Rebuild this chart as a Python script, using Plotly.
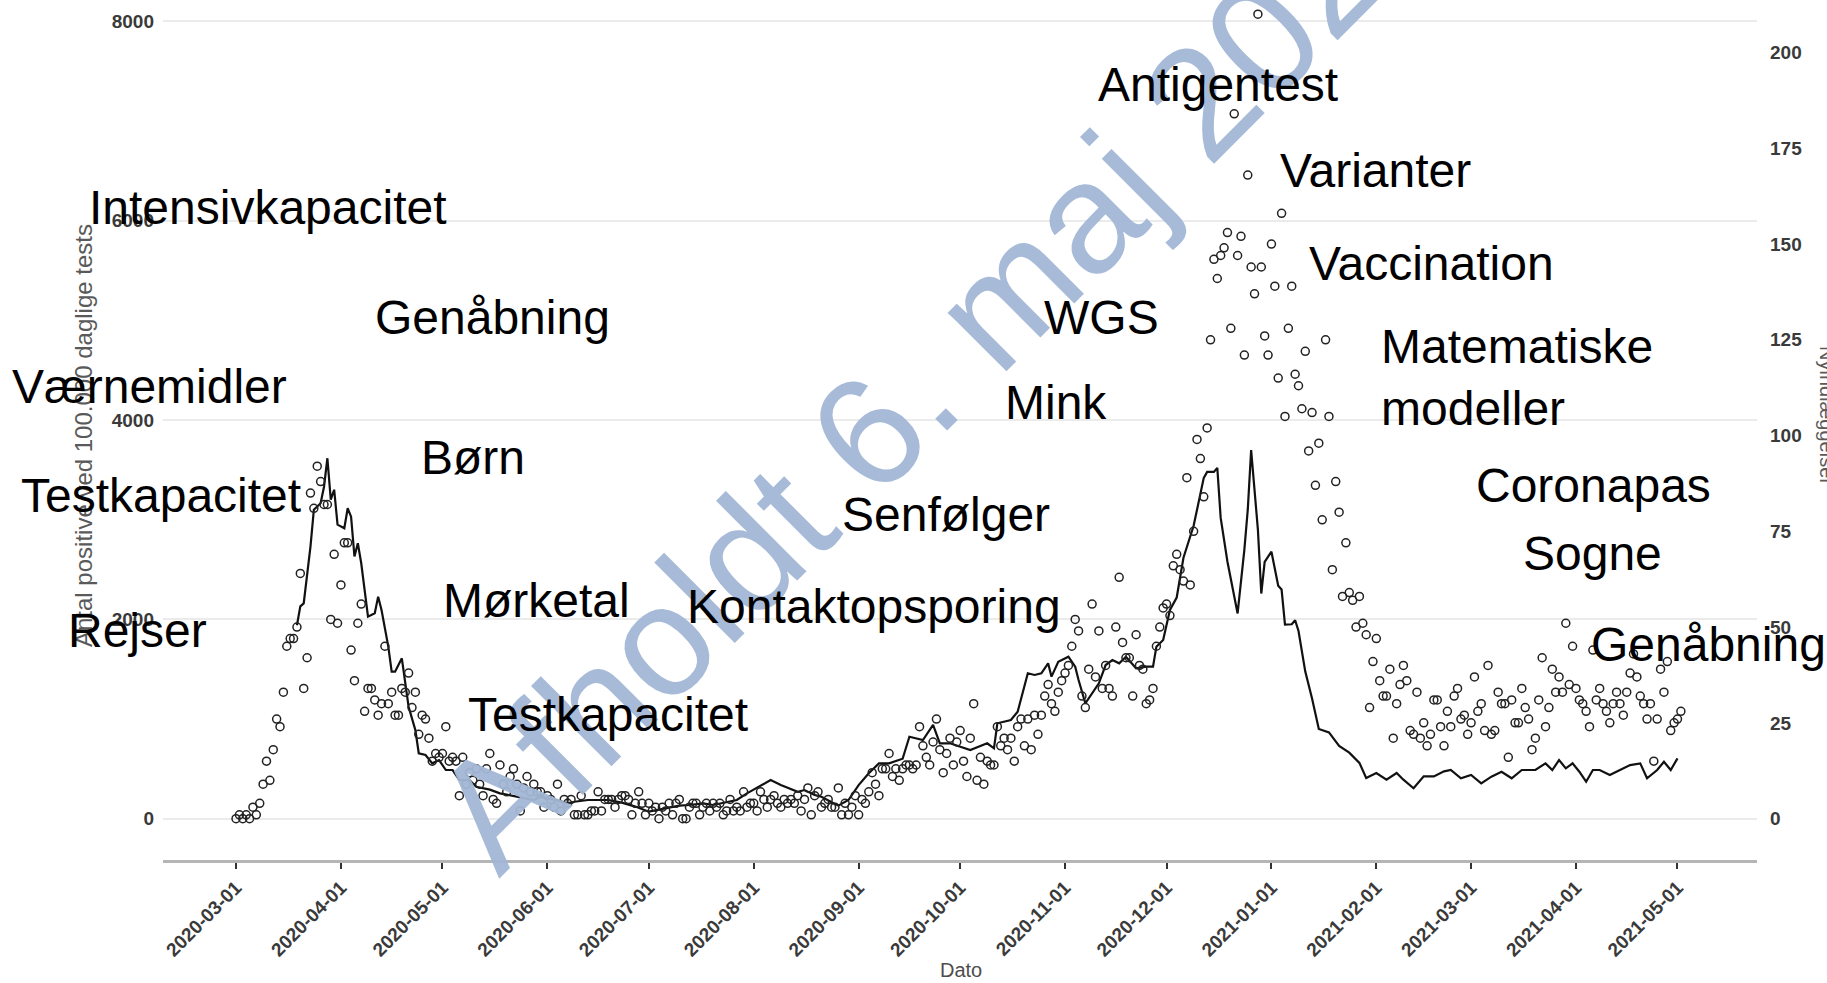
import pandas as pd
import plotly.graph_objects as go

# ---------------- data ----------------
start_date = "2020-03-01"

# daily new hospital admissions (right axis), one value per day from start_date
admissions = [
    0, 1, 0, 1, 0, 3, 1, 4, 9, 15,
    10, 18, 26, 24, 33, 45, 47, 47, 50, 64,
    34, 42, 85, 81, 92, 88, 82, 82, 52, 69,
    51, 61, 72, 72, 44, 36, 51, 56, 28, 34,
    34, 31, 27, 30, 45, 30, 33, 27, 27, 34,
    33, 38, 29, 33, 22, 27, 26, 21, 15, 17,
    16, 17, 24, 15, 16, 15, 6, 16, 9, 12,
    10, 13, 9, 6, 13, 17, 5, 4, 14, 9,
    7, 11, 13, 9, 2, 8, 11, 7, 9, 7,
    7, 3, 6, 5, 3, 9, 2, 5, 4, 5,
    1, 1, 6, 1, 1, 2, 2, 7, 2, 5,
    5, 5, 3, 5, 6, 6, 5, 1, 4, 7,
    4, 1, 4, 2, 3, 0, 3, 2, 4, 1,
    4, 5, 0, 0, 3, 4, 4, 1, 3, 4,
    2, 4, 3, 4, 1, 2, 5, 2, 3, 2,
    7, 3, 4, 4, 2, 7, 5, 3, 5, 6,
    4, 3, 5, 4, 5, 4, 6, 2, 5, 8,
    1, 6, 7, 3, 4, 5, 3, 3, 8, 1,
    4, 1, 3, 6, 1, 5, 4, 7, 12, 9,
    6, 13, 13, 17, 11, 13, 10, 13, 14, 14,
    13, 14, 24, 19, 16, 14, 20, 26, 18, 12,
    17, 21, 14, 20, 23, 15, 11, 21, 30, 10,
    16, 9, 15, 14, 14, 24, 19, 21, 18, 21,
    15, 24, 26, 19, 26, 18, 27, 22, 27, 32,
    35, 30, 28, 33, 36, 38, 40, 45, 52, 49,
    32, 29, 39, 56, 37, 49, 34, 40, 34, 32,
    50, 63, 46, 42, 42, 32, 48, 40, 39, 30,
    31, 34, 45, 50, 55, 56, 53, 66, 69, 65,
    62, 89, 61, 75, 99, 94, 84, 102, 125, 146,
    141, 147, 149, 153, 128, 184, 147, 152, 121, 168,
    144, 137, 210, 144, 126, 121, 150, 139, 115, 158,
    105, 128, 139, 116, 113, 107, 122, 96, 106, 87,
    98, 78, 125, 105, 65, 88, 80, 58, 72, 59,
    57, 50, 58, 51, 48, 29, 41, 47, 36, 32,
    32, 39, 21, 30, 35, 40, 36, 23, 22, 33,
    21, 25, 19, 22, 31, 31, 24, 19, 28, 24,
    32, 34, 26, 27, 22, 25, 37, 28, 30, 23,
    40, 22, 23, 33, 30, 30, 16, 31, 25, 25,
    34, 29, 26, 18, 21, 31, 42, 24, 29, 39,
    33, 37, 33, 51, 35, 45, 34, 31, 30, 28,
    24, 44, 31, 34, 30, 28, 25, 30, 33, 30,
    27, 33, 38, 43, 37, 32, 30, 26, 30, 15,
    26, 39, 33, 41, 23, 25, 26, 28,
]

# positives per 100.000 daily tests (left axis): day offset from start_date and value
positive_day = [
    18, 19, 20, 22, 23, 25, 26, 27, 28, 29, 30, 32, 33, 34, 35, 36, 37, 39, 41, 42,
    43, 45, 46, 47, 49, 50, 51, 53, 54, 56, 58, 60, 62, 64, 66, 69, 71, 75, 78, 80,
    83, 88, 90, 94, 98, 100, 104, 110, 114, 118, 122, 125, 127, 131, 134, 138, 141, 146, 148, 151,
    155, 158, 161, 166, 168, 171, 173, 176, 178, 181, 184, 187, 188, 190, 193, 196, 197, 199, 203, 206,
    208, 211, 217, 222, 224, 225, 229, 231, 234, 236, 238, 240, 241, 243, 246, 248, 249, 251, 253, 255,
    257, 259, 261, 263, 266, 269, 271, 272, 274, 276, 278, 280, 283, 286, 287, 289, 290, 291, 293, 295,
    296, 298, 299, 300, 302, 303, 304, 306, 308, 309, 310, 312, 313, 314, 316, 318, 320, 323, 326, 329,
    332, 334, 337, 340, 343, 345, 348, 351, 354, 357, 359, 362, 365, 368, 371, 374, 377, 380, 384, 387,
    389, 391, 393, 395, 397, 399, 401, 403, 406, 409, 412, 415, 417, 420, 422, 424, 426,
]
positive_val = [
    1940, 2130, 2160, 2730, 3100, 3165, 3330, 3616, 3200, 3300, 2950, 2914, 3114, 3030, 2630, 2763, 2562, 2026, 2060, 2227,
    2093, 1725, 1474, 1474, 1608, 1357, 1122, 888, 655, 638, 554, 587, 487, 487, 387, 386, 319, 290, 253, 240,
    220, 186, 219, 190, 153, 169, 186, 186, 160, 120, 69, 90, 102, 130, 136, 153, 136, 169, 186, 253,
    330, 386, 336, 269, 286, 236, 219, 169, 130, 186, 336, 454, 487, 554, 554, 587, 600, 821, 788, 939,
    755, 755, 688, 755, 705, 956, 989, 1072, 1458, 1441, 1458, 1558, 1424, 1574, 1624, 1524, 1391, 1157, 1257, 1357,
    1541, 1591, 1558, 1624, 1508, 1524, 1524, 1725, 1792, 2093, 2218, 2617, 2938, 3419, 3479, 3479, 3519, 3017, 2577, 2218,
    2058, 2698, 3097, 3698, 2898, 2258, 2577, 2678, 2337, 2298, 1946, 1950, 1990, 1882, 1475, 1204, 899, 864, 729, 661,
    559, 407, 457, 390, 457, 390, 304, 423, 423, 474, 487, 404, 437, 353, 420, 470, 404, 487, 487, 554,
    487, 587, 504, 554, 470, 370, 487, 487, 437, 487, 537, 554, 404, 487, 570, 487, 604,
]

left_ticks = [0, 2000, 4000, 6000, 8000]
right_ticks = [0, 25, 50, 75, 100, 125, 150, 175, 200]

labels = [
    "Intensivkapacitet", "Genåbning", "Værnemidler", "Børn", "Testkapacitet", "Rejser",
    "Mørketal", "Testkapacitet", "Kontaktopsporing", "Senfølger", "Mink", "WGS",
    "Antigentest", "Varianter", "Vaccination", "Matematiske<br>modeller", "Coronapas",
    "Sogne", "Genåbning",
]
watermark = "Afholdt 6. maj 2021"

# ---------------- layout geometry (pixels) ----------------
W, H = 1827, 983
PL, PR, PT, PB = 163, 1757, 0, 860          # plot area in pixels


def px(x):
    return (x - PL) / (PR - PL)


def py(y):
    return (PB - y) / (PB - PT)


# label placement: left edge x, vertical centre y (pixels)
label_pos = [
    (87, 207), (373, 318), (10, 386), (419, 457), (19, 495), (66, 630),
    (441, 600), (466, 714), (685, 606), (840, 514), (1003, 402), (1042, 317),
    (1096, 85), (1278, 170), (1307, 263), (1379, 377), (1474, 485),
    (1521, 553), (1589, 644),
]

adm_dates = pd.date_range(start_date, periods=len(admissions), freq="D")
pos_dates = pd.Timestamp(start_date) + pd.to_timedelta(positive_day, unit="D")

fig = go.Figure()
fig.add_trace(go.Scatter(
    x=adm_dates, y=admissions, mode="markers", yaxis="y2",
    marker=dict(symbol="circle-open", size=8, color="#222222", line=dict(width=1.5)),
    showlegend=False, hoverinfo="skip",
))
fig.add_trace(go.Scatter(
    x=pos_dates, y=positive_val, mode="lines", yaxis="y",
    line=dict(color="#111111", width=2.2),
    showlegend=False, hoverinfo="skip",
))

tickfont = dict(family="Liberation Sans", size=19, color="#3a3a3a", weight="bold")

fig.update_layout(
    width=W, height=H,
    margin=dict(l=PL, r=W - PR, t=PT, b=H - PB, autoexpand=False),
    paper_bgcolor="white", plot_bgcolor="white",
    showlegend=False,
    xaxis=dict(
        type="date", range=["2020-02-08 10:00", "2021-05-24 12:00"],
        tick0="2020-03-01", dtick="M1", tickformat="%Y-%m-%d", tickangle=-45,
        tickfont=tickfont, showgrid=False, zeroline=False,
        showline=True, linecolor="#b5b5b5", linewidth=3,
        ticks="outside", ticklen=6, tickwidth=1.5, tickcolor="#333333",
    ),
    yaxis=dict(
        range=[-416, 8215], tickvals=left_ticks, ticktext=[str(v) for v in left_ticks],
        tickfont=tickfont, showgrid=True, gridcolor="#ebebeb", gridwidth=2,
        zeroline=False, showline=False, ticks="", ticklabelstandoff=8,
    ),
    yaxis2=dict(
        range=[-10.8, 213.7], tickvals=right_ticks, ticktext=[str(v) for v in right_ticks],
        overlaying="y", side="right", tickfont=tickfont, showgrid=False,
        zeroline=False, showline=False, ticks="", ticklabelstandoff=12,
    ),
)

ann = []
# axis titles
ann.append(dict(text="Dato", x=px(961), y=py(970), xref="paper", yref="paper",
                showarrow=False, xanchor="center", yanchor="middle",
                font=dict(family="Liberation Sans", size=20, color="#4d4d4d")))
ann.append(dict(text="Antal positive ved 100.000 daglige tests", x=px(84), y=py(436),
                xref="paper", yref="paper", showarrow=False, textangle=-90,
                xanchor="center", yanchor="middle",
                font=dict(family="Liberation Sans", size=24, color="#5a5a5a")))
ann.append(dict(text="Nyindlæggelser", x=px(1827), y=py(415),
                xref="paper", yref="paper", showarrow=False, textangle=90,
                xanchor="center", yanchor="middle",
                font=dict(family="Liberation Sans", size=20, color="#5a5a5a")))
# watermark
ann.append(dict(text=watermark, x=px(938), y=py(362), xref="paper", yref="paper",
                showarrow=False, textangle=-45, xanchor="center", yanchor="middle",
                font=dict(family="Liberation Sans", size=157, color="#a3b8d6"),
                opacity=0.95))
# topic labels
for t, (lx, ly) in zip(labels, label_pos):
    ann.append(dict(text=t, x=px(lx), y=py(ly), xref="paper", yref="paper",
                    showarrow=False, xanchor="left", yanchor="middle", align="left",
                    font=dict(family="Liberation Sans", size=48, color="black")))

fig.update_layout(annotations=ann)
fig.write_html("out.html", config={"displayModeBar": False},
               post_script="document.body.style.margin='0px';")
